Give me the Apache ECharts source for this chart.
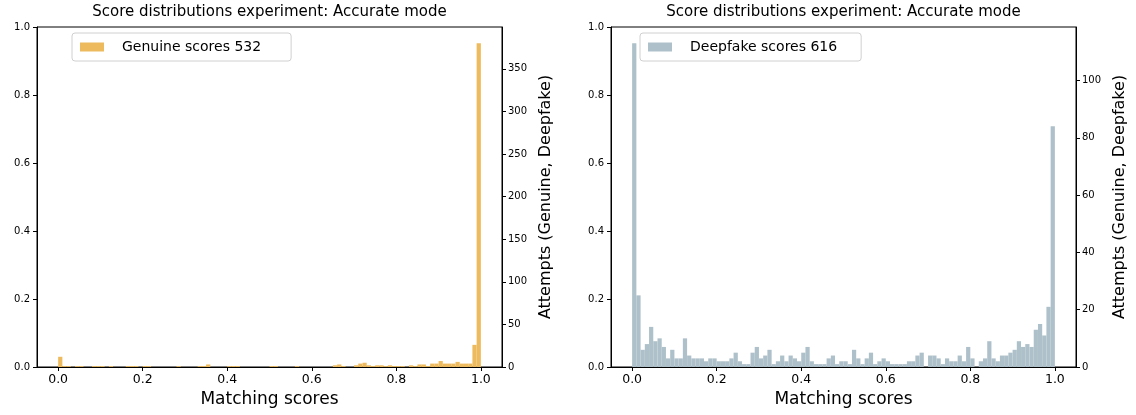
<!DOCTYPE html>
<html>
<head>
<meta charset="utf-8">
<script src="https://cdn.jsdelivr.net/npm/echarts@6/dist/echarts.min.js"></script>
<style>
html,body{margin:0;padding:0;background:#fff;}
#chart{width:1136px;height:415px;}
</style>
</head>
<body>
<div id="chart"></div>
<script>
// ---- data ----
const chartTitle = 'Score distributions experiment: Accurate mode';
const xAxisTitle = 'Matching scores';
const yAxisTitle = 'Attempts (Genuine, Deepfake)';
const genuineLabel = 'Genuine scores 532';
const deepfakeLabel = 'Deepfake scores 616';
const binWidth = 0.01; // 100 bins over [0, 1]
const xTicks = [0, 0.2, 0.4, 0.6, 0.8, 1.0];

const genuineCounts = [
  12,1,1,0,1,1,0,0,1,1,
  1,0,1,0,0,0,1,1,1,0,
  1,1,0,0,0,0,0,0,1,0,
  0,0,0,1,1,3,0,0,0,0,
  1,1,1,0,0,0,0,0,0,0,
  1,1,0,0,0,0,1,0,0,0,
  0,0,0,0,0,2,3,1,0,0,
  2,4,5,2,1,2,2,1,2,1,
  1,1,0,2,1,3,3,1,4,4,
  7,4,4,4,6,4,4,4,26,380
];
const deepfakeCounts = [
  113,25,6,8,14,9,10,7,3,6,
  3,3,10,4,3,3,3,2,3,3,
  2,2,2,3,5,2,1,1,5,7,
  3,4,6,1,2,4,2,4,3,2,
  5,7,2,1,1,1,3,4,1,2,
  2,1,6,3,1,3,5,1,2,3,
  2,1,1,1,1,2,2,4,5,0,
  4,4,3,1,3,2,2,4,2,7,
  3,0,2,3,9,3,2,4,4,5,
  6,9,7,8,7,13,15,11,21,84
];
const genuineYMax = 399;
const deepfakeYMax = 118.65;

const genuineColor = '#EDBB5E';
const deepfakeColor = '#AEC0C9';
const FONT = 'DejaVu Sans';

function binData(counts){
  return counts.map((c, i) => [i * binWidth, (i + 1) * binWidth, c]);
}

function renderBin(color){
  return function(params, api){
    const x0 = api.value(0), x1 = api.value(1), h = api.value(2);
    const p0 = api.coord([x0, h]);
    const p1 = api.coord([x1, 0]);
    return {
      type: 'rect',
      shape: {x: p0[0], y: p0[1], width: p1[0] - p0[0], height: p1[1] - p0[1]},
      style: {fill: color}
    };
  };
}

const grids = [
  {left: 37, top: 27, width: 465, height: 340},
  {left: 611, top: 27, width: 465, height: 340}
];

function xAxisFor(gi){
  return {
    type: 'value', gridIndex: gi, min: -0.05, max: 1.05,
    name: xAxisTitle, nameLocation: 'middle', nameGap: 22,
    nameTextStyle: {fontFamily: FONT, fontSize: 17, color: '#000'},
    axisLine: {show: true, onZero: false, lineStyle: {color: '#000', width: 1}},
    axisTick: {show: true, length: 4, customValues: xTicks, lineStyle: {color: '#000'}},
    axisLabel: {customValues: xTicks, formatter: v => v.toFixed(1), fontFamily: FONT, fontSize: 12.5, color: '#000', margin: 6},
    splitLine: {show: false}
  };
}
function leftYAxis(gi){
  return {
    type: 'value', gridIndex: gi, position: 'left', min: 0, max: 1, interval: 0.2,
    axisLine: {show: true, onZero: false, lineStyle: {color: '#000'}},
    axisTick: {show: true, length: 4, lineStyle: {color: '#000'}},
    axisLabel: {formatter: v => v.toFixed(1), fontFamily: FONT, fontSize: 10, color: '#000', margin: 7},
    splitLine: {show: false}
  };
}
function rightYAxis(gi, max, interval){
  return {
    type: 'value', gridIndex: gi, position: 'right', min: 0, max: max, interval: interval,
    name: yAxisTitle, nameLocation: 'middle', nameRotate: 90, nameGap: 36,
    nameTextStyle: {fontFamily: FONT, fontSize: 16, color: '#000'},
    axisLine: {show: true, onZero: false, lineStyle: {color: '#000'}},
    axisTick: {show: true, length: 4, lineStyle: {color: '#000'}},
    axisLabel: {fontFamily: FONT, fontSize: 10, color: '#000', margin: 6, showMaxLabel: false},
    splitLine: {show: false}
  };
}

const option = {
  animation: false,
  backgroundColor: '#fff',
  title: [
    {text: chartTitle, left: 269.5, top: 5, textAlign: 'center', padding: 0,
     textStyle: {fontFamily: FONT, fontSize: 15, fontWeight: 'normal', color: '#000'}},
    {text: chartTitle, left: 843.5, top: 5, textAlign: 'center', padding: 0,
     textStyle: {fontFamily: FONT, fontSize: 15, fontWeight: 'normal', color: '#000'}}
  ],
  legend: [
    {data: [{name: genuineLabel, icon: 'rect'}], left: 72, top: 33, orient: 'vertical',
     itemWidth: 24, itemHeight: 9, padding: [7, 30, 7, 8],
     borderColor: '#d0d0d0', borderWidth: 1, borderRadius: 3, backgroundColor: 'rgba(255,255,255,0.8)',
     textStyle: {fontFamily: FONT, fontSize: 14, color: '#000', padding: [0, 0, 0, 13]}},
    {data: [{name: deepfakeLabel, icon: 'rect'}], left: 640, top: 33, orient: 'vertical',
     itemWidth: 24, itemHeight: 9, padding: [7, 24, 7, 8],
     borderColor: '#d0d0d0', borderWidth: 1, borderRadius: 3, backgroundColor: 'rgba(255,255,255,0.8)',
     textStyle: {fontFamily: FONT, fontSize: 14, color: '#000', padding: [0, 0, 0, 13]}}
  ],
  grid: grids.map(g => Object.assign({show: true, borderColor: '#000', borderWidth: 1, backgroundColor: 'transparent'}, g)),
  xAxis: [xAxisFor(0), xAxisFor(1)],
  yAxis: [leftYAxis(0), rightYAxis(0, genuineYMax, 50), leftYAxis(1), rightYAxis(1, deepfakeYMax, 20)],
  series: [
    {name: genuineLabel, type: 'custom', xAxisIndex: 0, yAxisIndex: 1,
     itemStyle: {color: genuineColor}, renderItem: renderBin(genuineColor),
     encode: {x: [0, 1], y: 2}, data: binData(genuineCounts)},
    {name: deepfakeLabel, type: 'custom', xAxisIndex: 1, yAxisIndex: 3,
     itemStyle: {color: deepfakeColor}, renderItem: renderBin(deepfakeColor),
     encode: {x: [0, 1], y: 2}, data: binData(deepfakeCounts)}
  ]
};

const chart = echarts.init(document.getElementById('chart'), null, {renderer: 'canvas'});
chart.setOption(option);
</script>
</body>
</html>
